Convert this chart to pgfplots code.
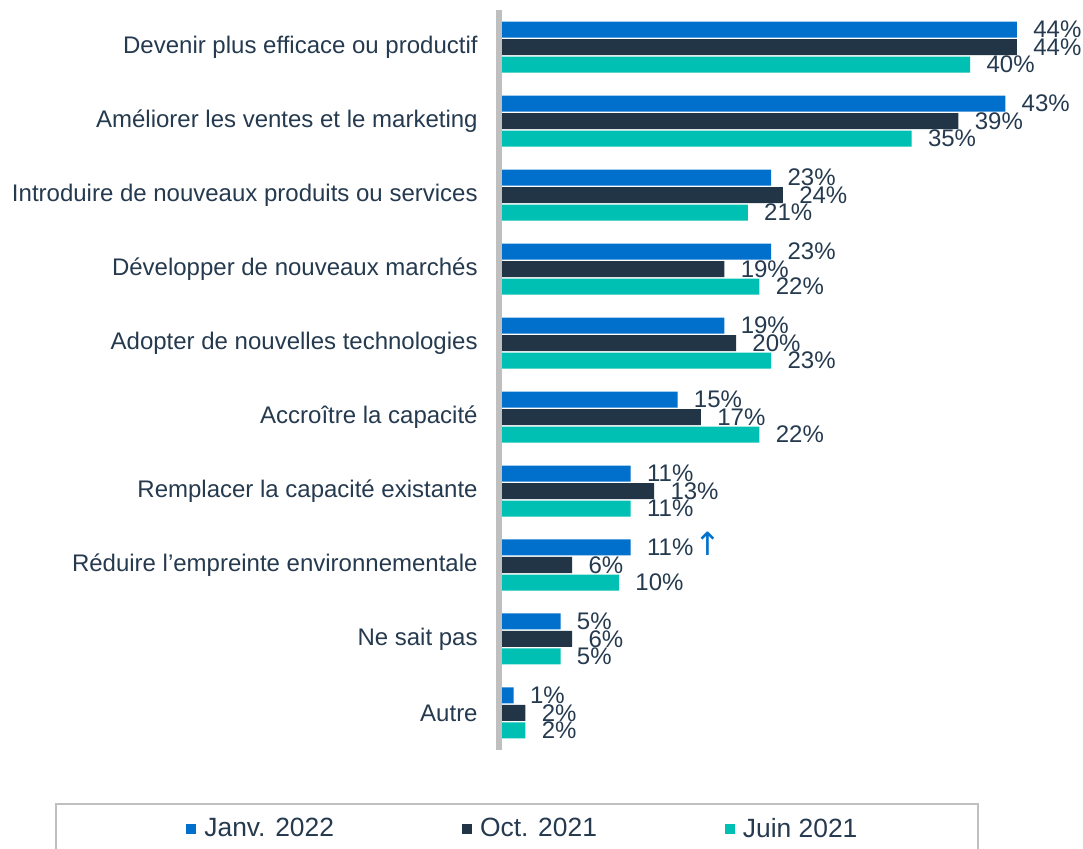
\documentclass[border=0pt]{standalone}
\usepackage{pgfplots}
\pgfplotsset{compat=1.18}
\usepackage{fontspec}
\setmainfont{Liberation Sans}
\newfontfamily\dejavu{DejaVu Sans}
\definecolor{cjanv}{HTML}{0070CC}
\definecolor{coct}{HTML}{213547}
\definecolor{cjuin}{HTML}{00BFB3}
\definecolor{ctext}{HTML}{253A4F}
\definecolor{cgray}{HTML}{BFBFBF}
\newcommand{\uparr}{\hspace{0.5pt}\smash{\dejavu\fontsize{16}{16}\selectfont\textcolor{cjanv}{↑}}}
\begin{document}
\begin{tikzpicture}
\useasboundingbox (0,0) rectangle (541.5pt,-424.5pt);
\begin{axis}[
  at={(251pt,-5pt)}, anchor=north west,
  scale only axis, width=280.9pt, height=370pt,
  xbar, bar width=8pt,
  xmin=0, xmax=48, ymin=-0.5, ymax=9.5, y dir=reverse,
  axis line style={draw=none},
  xtick=\empty, ytick={0,...,9}, major tick length=0pt,
  yticklabels={Devenir plus efficace ou productif,
    Améliorer les ventes et le marketing,
    Introduire de nouveaux produits ou services,
    Développer de nouveaux marchés,
    Adopter de nouvelles technologies,
    Accroître la capacité,
    Remplacer la capacité existante,
    Réduire l’empreinte environnementale,
    Ne sait pas,
    Autre},
  yticklabel style={anchor=east, inner sep=0pt, xshift=-12pt,
    font=\fontsize{12}{14}\selectfont, text=ctext},
  clip=false,
  /pgf/number format/assume math mode=true,
  nodes near coords style={anchor=west, inner sep=0pt, xshift=8pt,
    font=\fontsize{12}{14}\selectfont, text=ctext},
  legend columns=3,
  legend style={at={(-0.5625,-0.1068)}, anchor=west, draw=none, fill=none,
    inner sep=0pt, font=\fontsize{13.2}{15}\selectfont, text=ctext,
    nodes={inner sep=0pt},
    /tikz/every even column/.append style={column sep=64pt}},
  legend image code/.code={\fill[#1] (0pt,-2.5pt) rectangle (5pt,2.5pt); \path (9pt,0pt);},
]
\addplot[fill=cjanv, draw=none, bar shift=8.75pt,
  point meta=explicit symbolic, nodes near coords={\pgfplotspointmeta}]
  coordinates {
  (44,0) [44\%] (43,1) [43\%] (23,2) [23\%] (23,3) [23\%] (19,4) [19\%]
  (15,5) [15\%] (11,6) [11\%] (11,7) [11\%\uparr] (5,8) [5\%] (1,9) [1\%]
  };
\addlegendentry{Janv. 2022}
\addplot[fill=coct, draw=none, bar shift=0pt,
  point meta=x, nodes near coords={\pgfmathprintnumber{\pgfplotspointmeta}\%}]
  coordinates {
  (44,0) (39,1) (24,2) (19,3) (20,4) (17,5) (13,6) (6,7) (6,8) (2,9)
  };
\addlegendentry{Oct. 2021}
\addplot[fill=cjuin, draw=none, bar shift=-8.75pt,
  point meta=x, nodes near coords={\pgfmathprintnumber{\pgfplotspointmeta}\%}]
  coordinates {
  (40,0) (35,1) (21,2) (22,3) (23,4) (22,5) (11,6) (10,7) (5,8) (2,9)
  };
\addlegendentry{Juin 2021}
\draw[cgray, line width=3pt] ([xshift=-1.5pt]axis cs:0,-0.5) -- ([xshift=-1.5pt]axis cs:0,9.5);
\end{axis}
\draw[cgray, line width=0.75pt] (28pt,-424.5pt) -- (28pt,-402pt) -- (489pt,-402pt) -- (489pt,-424.5pt);
\end{tikzpicture}
\end{document}
